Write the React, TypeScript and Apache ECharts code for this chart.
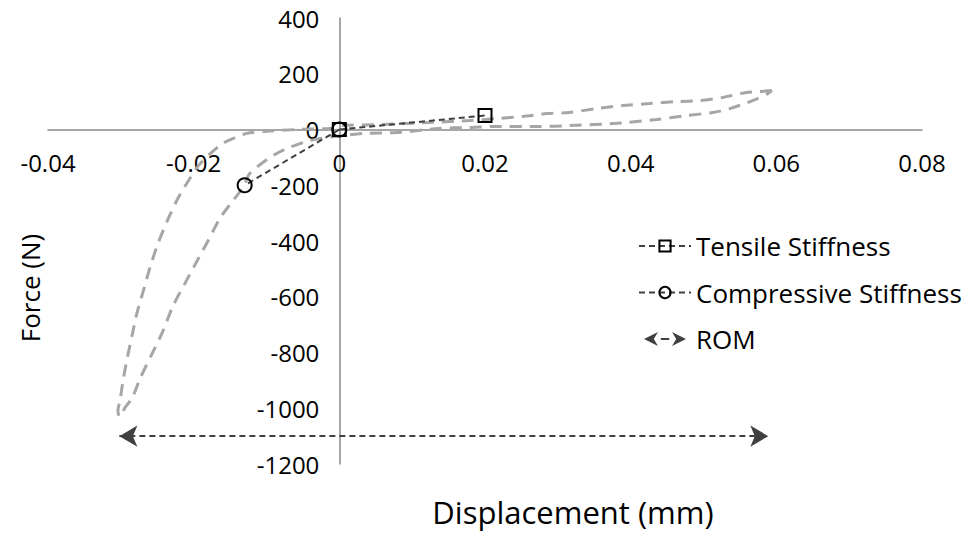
import React, { useEffect, useRef } from "react";
import * as echarts from "echarts";

// Hysteresis loop (grey dashed), outer branch: right tip -> bottom tip
const loopOuterX = [0.0594, 0.0577, 0.0559, 0.0526, 0.0495, 0.0463, 0.0426, 0.0389, 0.0353, 0.0316, 0.0285, 0.0252, 0.0216, 0.0179, 0.0124, 0.0056, 0.0005, -0.0013, -0.0058, -0.0104, -0.0127, -0.016, -0.0191, -0.0207, -0.0221, -0.0236, -0.0249, -0.026, -0.0269, -0.0278, -0.0284, -0.0291, -0.0297, -0.0301, -0.0304, -0.0302];
const loopOuterY = [140, 136, 133, 115, 104, 100, 93, 86, 75, 61, 57, 47, 39, 32, 25, 18, 14, 4, 0, -7, -14, -50, -122, -183, -244, -326, -409, -495, -578, -660, -732, -818, -900, -972, -1008, -1030];
// inner branch: bottom tip -> right tip
const loopInnerX = [-0.0294, -0.0284, -0.0273, -0.0257, -0.0243, -0.0228, -0.0212, -0.0195, -0.018, -0.0164, -0.0146, -0.0132, -0.0123, -0.0095, -0.0072, -0.004, -0.0006, 0.0033, 0.0079, 0.0138, 0.0179, 0.0216, 0.0275, 0.0316, 0.0381, 0.0436, 0.0477, 0.0513, 0.0536, 0.0557, 0.0574, 0.0587, 0.0594];
const loopInnerY = [-997, -961, -890, -804, -728, -631, -552, -470, -398, -319, -255, -208, -158, -100, -68, -39, -25, -14, -11, 4, 7, 11, 11, 14, 22, 36, 50, 61, 75, 93, 111, 127, 140];

const tensileX = [0, 0.02];
const tensileY = [0, 50];
const compressiveX = [0, -0.013];
const compressiveY = [0, -200];
const romX = [-0.0302, 0.0589];
const romY = [-1100, -1100];

const xMin = -0.04, xMax = 0.08, xStep = 0.02;
const yMin = -1200, yMax = 400, yStep = 200;

const FONT = "Open Sans";
const GRID = { left: 48, right: 44, top: 18, bottom: 69 };
const W = 966, H = 533;

export default function App() {
  const ref = useRef<HTMLDivElement>(null);
  useEffect(() => {
    if (!ref.current) return;
    const chart = echarts.init(ref.current, null, { renderer: "svg" });
    const loopData: number[][] = [];
    loopOuterX.forEach((x, i) => loopData.push([x, loopOuterY[i]]));
    loopInnerX.forEach((x, i) => loopData.push([x, loopInnerY[i]]));
    const tData = tensileX.map((x, i) => [x, tensileY[i]]);
    const cData = compressiveX.map((x, i) => [x, compressiveY[i]]);
    const gw = W - GRID.left - GRID.right;
    const gh = H - GRID.top - GRID.bottom;
    // shift axes so that they cross at zero (labels follow the lines)
    const xOffset = -gh * (0 - yMin) / (yMax - yMin);
    const yOffset = -gw * (0 - xMin) / (xMax - xMin);
    const axisLineStyle = { color: "#8a8a8a", width: 1.5 };
    chart.setOption({
      animation: false,
      grid: { ...GRID, containLabel: false, outerBoundsMode: "none" },
      xAxis: {
        type: "value",
        position: "bottom",
        offset: xOffset,
        min: xMin,
        max: xMax,
        interval: xStep,
        axisLine: { onZero: false, lineStyle: axisLineStyle },
        axisTick: { show: false },
        splitLine: { show: false },
        axisLabel: { fontSize: 24, fontFamily: FONT, color: "#000", margin: 21, formatter: (v: number) => String(+v.toFixed(2)) },
      },
      yAxis: {
        type: "value",
        position: "left",
        offset: yOffset,
        min: yMin,
        max: yMax,
        interval: yStep,
        axisLine: { onZero: false, lineStyle: axisLineStyle },
        axisTick: { show: false },
        splitLine: { show: false },
        axisLabel: { fontSize: 24, fontFamily: FONT, color: "#000", margin: 20, formatter: (v: number) => String(v) },
      },
      legend: {
        orient: "vertical",
        left: 638,
        top: 233,
        padding: 0,
        itemWidth: 52,
        itemHeight: 14,
        itemGap: 20.5,
        selectedMode: false,
        textStyle: { fontSize: 26, fontFamily: FONT, color: "#000", lineHeight: 24 },
        data: [
          { name: "Tensile Stiffness" },
          { name: "Compressive Stiffness" },
          {
            name: "ROM",
            icon: "path://M0,5L10,0L7,5L10,10Z M12,4.2H18V5.8H12Z M30,5L20,0L23,5L20,10Z",
            itemStyle: { color: "#404040" },
          },
        ],
      },
      graphic: [
        {
          type: "text",
          x: 30,
          y: 288,
          rotation: Math.PI / 2,
          style: { text: "Force (N)", fontSize: 26, fontFamily: FONT, fill: "#000", align: "center", verticalAlign: "middle" },
        },
        {
          type: "text",
          x: 573,
          y: 512,
          style: { text: "Displacement (mm)", fontSize: 31, fontFamily: FONT, fill: "#000", align: "center", verticalAlign: "middle" },
        },
      ],
      series: [
        {
          name: "Loop",
          type: "line",
          data: loopData,
          smooth: 0.25,
          showSymbol: false,
          silent: true,
          z: 1,
          lineStyle: { color: "#a6a6a6", width: 3, type: [12, 8] },
        },
        {
          name: "Tensile Stiffness",
          type: "line",
          data: tData,
          symbol: "rect",
          symbolSize: 13,
          z: 3,
          lineStyle: { color: "#404040", width: 2, type: [6, 4] },
          itemStyle: { color: "rgba(255,255,255,0)", borderColor: "#000", borderWidth: 2 },
        },
        {
          name: "Compressive Stiffness",
          type: "line",
          data: cData,
          symbol: "circle",
          symbolSize: 14,
          z: 2,
          lineStyle: { color: "#404040", width: 2, type: [6, 4] },
          itemStyle: { color: "rgba(255,255,255,0)", borderColor: "#000", borderWidth: 2 },
        },
        {
          name: "ROM",
          type: "line",
          data: [],
          itemStyle: { color: "#404040" },
          lineStyle: { color: "#404040", width: 2, type: [6, 4] },
          markLine: {
            silent: true,
            symbol: ["arrow", "arrow"],
            symbolSize: [16, 18],
            label: { show: false },
            lineStyle: { color: "#404040", width: 2, type: [6, 4] },
            data: [[{ coord: [romX[0], romY[0]] }, { coord: [romX[1], romY[1]] }]],
          },
        },
      ],
    });
    return () => chart.dispose();
  }, []);
  return (
    <div
      ref={ref}
      style={{ position: "fixed", left: 0, top: 0, width: W, height: H, background: "#fff" }}
    />
  );
}
